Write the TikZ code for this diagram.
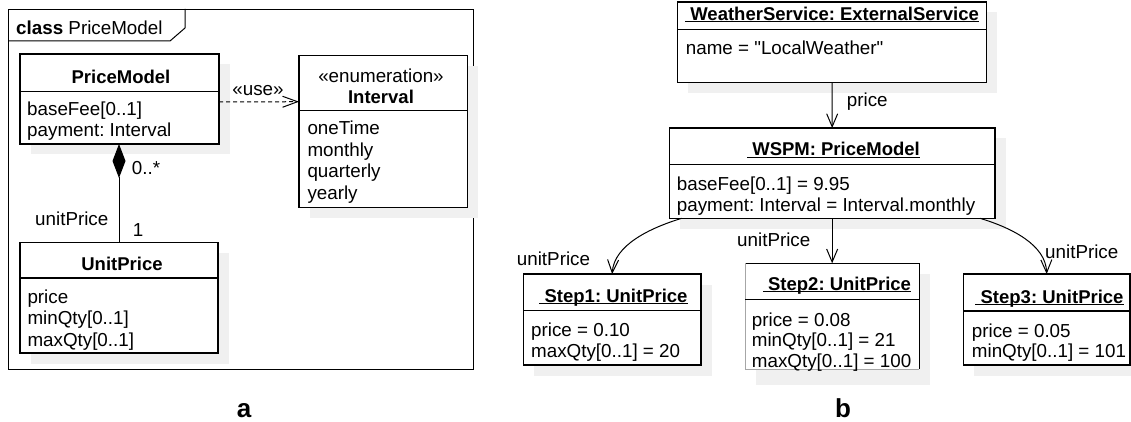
\documentclass[tikz,border=0pt]{standalone}
\usepackage{fontspec}
\setmainfont{Liberation Sans}[Ligatures=TeXOff]
\usetikzlibrary{arrows.meta,calc,shadows}
\definecolor{shade}{gray}{0.94}
\newcommand{\uln}[1]{\leavevmode\setbox0\hbox{#1}\rlap{\vrule width \wd0 height -0.6pt depth 2pt}\box0}
\frenchspacing
\begin{document}
\begin{tikzpicture}[x=1pt,y=-1pt,
  box/.style={draw, line width=1.1pt, fill=white, inner sep=0pt, outer sep=0pt, anchor=north west,
    drop shadow={shadow xshift=10.5pt, shadow yshift=-10.5pt, fill=shade, opacity=1}},
  div/.style={line width=1.1pt},
  txt/.style={inner sep=0pt, anchor=base west, font=\fontsize{18.8}{21}\selectfont},
  ttl/.style={inner sep=0pt, anchor=base, font=\bfseries\fontsize{18.5}{21}\selectfont},
  big/.style={inner sep=0pt, anchor=base, font=\bfseries\fontsize{26}{30}\selectfont},
  assoc/.style={line width=1pt, -{Straight Barb[length=13pt,width=11pt]}},
  usedep/.style={line width=1pt, dash pattern=on 4pt off 3pt, -{Straight Barb[length=15pt,width=11pt]}},
  comp/.style={line width=1pt, -{Diamond[length=34pt,width=13pt]}}
]
\useasboundingbox (0,0) rectangle (1131,422);

% ---------- (a) class diagram ----------
\node[draw, line width=1pt, inner sep=0pt, minimum width=465pt, minimum height=360pt, anchor=north west] (frame) at (8,9) {};
\draw[line width=1pt] ($(frame.north west)+(0,32)$) -- ++(162,0) -- ++(15,-13) -- ++(0,-19);
\node[txt] (cls) at (16,35) {\textbf{class} PriceModel};

\node[box, minimum width=199pt, minimum height=90pt] (pm) at (20,54) {};
\draw[div] ($(pm.north west)+(0,37.7)$) -- ($(pm.north east)+(0,37.7)$);
\node[ttl] (pmt) at (121,84) {PriceModel};
\node[txt] (pma1) at (27,116) {baseFee[0..1]};
\node[txt] (pma2) at (27,137) {payment: Interval};

\node[box, minimum width=168.7pt, minimum height=152pt] (iv) at (299,55.7) {};
\draw[div] ($(iv.north west)+(0,55)$) -- ($(iv.north east)+(0,55)$);
\node[txt, anchor=base] (ivs) at (381,83) {«enumeration»};
\node[ttl] (ivt) at (381,103.3) {Interval};
\node[txt] (iv1) at (307.3,135) {oneTime};
\node[txt] (iv2) at (307.3,156.3) {monthly};
\node[txt] (iv3) at (307.3,177.6) {quarterly};
\node[txt] (iv4) at (307.3,199) {yearly};

\node[box, minimum width=198pt, minimum height=110.3pt] (up) at (20,242.7) {};
\draw[div] ($(up.north west)+(0,35.3)$) -- ($(up.north east)+(0,35.3)$);
\node[ttl] (upt) at (122,270) {UnitPrice};
\node[txt] (up1) at (27.3,303.3) {price};
\node[txt] (up2) at (27.3,324.6) {minQty[0..1]};
\node[txt] (up3) at (27.3,346) {maxQty[0..1]};

\draw[usedep] ($(pm.north east)+(0,48)$) -- ($(iv.north west)+(0,46)$);
\node[txt, anchor=base] (use) at (258,96) {«use»};
\draw[comp] (up.north) -- (up.north |- pm.south);
\node[txt] (m1) at (131.7,175) {0..*};
\node[txt] (r1) at (35,225) {unitPrice};
\node[txt] (m2) at (132.7,236.7) {1};

\node[big] (la) at (244,417.5) {a};

% ---------- (b) object diagram ----------
\node[box, minimum width=309pt, minimum height=80.7pt] (ws) at (677.7,2) {};
\draw[div] ($(ws.north west)+(0,27.3)$) -- ($(ws.north east)+(0,27.3)$);
\node[ttl, anchor=base west] (wst) at (685,20.5) {\uln{\ WeatherService: ExternalService}};
\node[txt] (ws1) at (685.7,54.5) {name = "LocalWeather"};

\node[box, minimum width=325.7pt, minimum height=90.3pt] (wspm) at (669.3,128) {};
\draw[div] ($(wspm.north west)+(0,36.3)$) -- ($(wspm.north east)+(0,36.3)$);
\node[ttl] (wspmt) at (833.5,156) {\uln{\ WSPM: PriceModel}};
\node[txt] (wspm1) at (676.7,190.7) {baseFee[0..1] = 9.95};
\node[txt] (wspm2) at (676.7,211.7) {payment: Interval = Interval.monthly};

\node[box, minimum width=177.7pt, minimum height=91pt] (s1) at (523.3,274) {};
\draw[div] ($(s1.north west)+(0,36.7)$) -- ($(s1.north east)+(0,36.7)$);
\node[ttl] (s1t) at (613.5,302) {\uln{\ Step1: UnitPrice}};
\node[txt] (s11) at (531,336) {price = 0.10};
\node[txt] (s12) at (531,357.3) {maxQty[0..1] = 20};

\node[box, draw=none, minimum width=174.3pt, minimum height=105.7pt,
  drop shadow={shadow xshift=11pt, shadow yshift=-16pt, fill=shade, opacity=1}] (s2) at (745,263.3) {};
\draw[div] (s2.north west) -- (s2.north east) -- (s2.south east);
\draw[line width=0.8pt, gray!70] (s2.south east) -- (s2.south west) -- (s2.north west);
\draw[div] ($(s2.north west)+(0,36)$) -- ($(s2.north east)+(0,36)$);
\node[ttl] (s2t) at (837,290) {\uln{\ Step2: UnitPrice}};
\node[txt] (s21) at (751.7,326) {price = 0.08};
\node[txt] (s22) at (751.7,346.7) {minQty[0..1] = 21};
\node[txt] (s23) at (751.7,367) {maxQty[0..1] = 100};

\node[box, minimum width=166.7pt, minimum height=91pt] (s3) at (963.3,274) {};
\draw[div] ($(s3.north west)+(0,37)$) -- ($(s3.north east)+(0,37)$);
\node[ttl] (s3t) at (1049.5,303.3) {\uln{\ Step3: UnitPrice}};
\node[txt] (s31) at (971.7,337.3) {price = 0.05};
\node[txt] (s32) at (971.7,357.7) {minQty[0..1] = 101};

\draw[assoc] (ws.south) -- (wspm.north);
\node[txt] (pr) at (846.7,106.5) {price};
\draw[assoc] ($(wspm.south west)+(12.4,0)$) .. controls (650,228) and (614,245) .. (s1.north);
\draw[assoc] (wspm.south) -- (s2.north);
\draw[assoc] ($(wspm.south east)+(-15,0)$) .. controls (1012,228) and (1046,245) .. (s3.north);
\node[txt] (r2) at (516.7,265) {unitPrice};
\node[txt] (r3) at (737,246.7) {unitPrice};
\node[txt] (r4) at (1045,258) {unitPrice};

\node[big] (lb) at (843,417.5) {b};
\end{tikzpicture}
\end{document}
